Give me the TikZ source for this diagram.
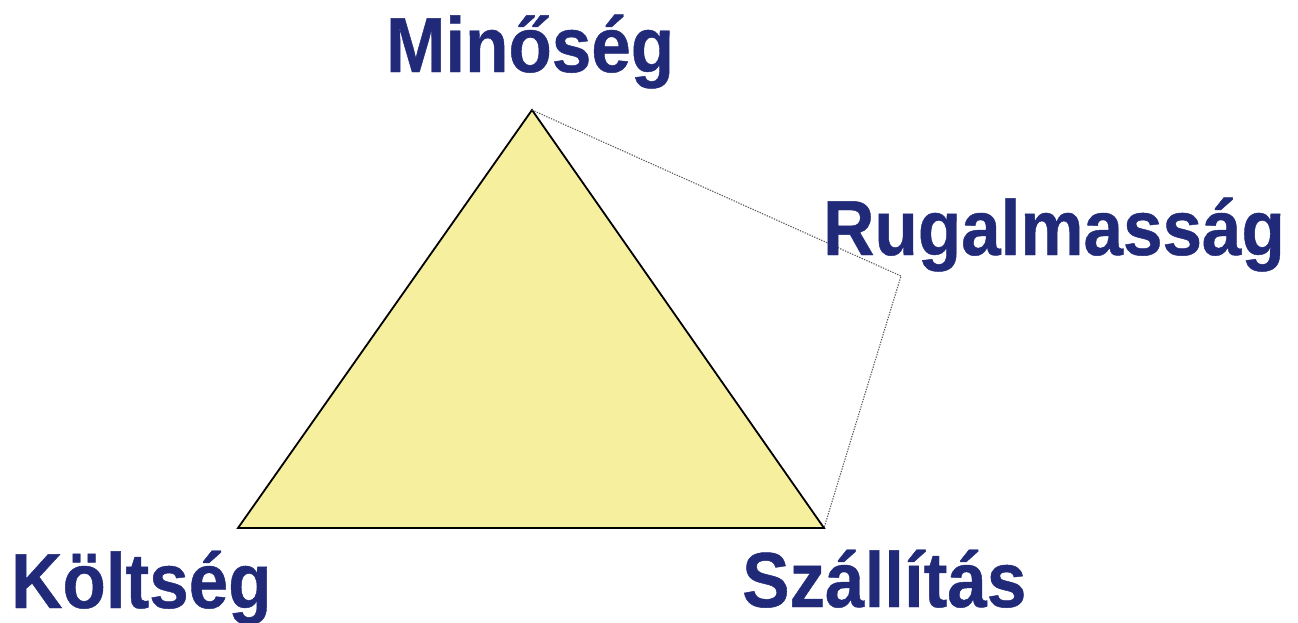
\documentclass[tikz,border=0pt]{standalone}
\usepackage{fontspec}
\setmainfont{Liberation Sans}[BoldFeatures={FakeBold=0.6}]
\usetikzlibrary{calc}
\definecolor{navy}{RGB}{32,42,120}
\definecolor{tri}{RGB}{246,240,158}
\definecolor{dotgray}{RGB}{90,90,90}
\tikzset{
  lbl/.style={inner sep=0pt, anchor=base west, text=navy, font=\bfseries\fontsize{71}{85}\selectfont},
  trione/.style={draw=black, line width=1.8pt, fill=tri, line join=miter},
  dotline/.style={draw=dotgray, line width=1.1pt, dash pattern=on 1.3pt off 1.3pt}
}
\begin{document}
\begin{tikzpicture}[x=1pt,y=-1pt]
\useasboundingbox (0,0) rectangle (1298,622);
\coordinate (top) at (532,110);
\coordinate (bl) at (238,528);
\coordinate (br) at (824,528);
\coordinate (rc) at (901,276);
\filldraw[trione] (top) -- (bl) -- (br) -- cycle;
\draw[dotline] (top) -- (rc) -- (br);
\node[lbl] (min) at (386,72) {\scalebox{1}[1.1]{Minőség}};
\node[lbl] (rug) at (823,255) {\scalebox{1}[1.1]{Rugalmasság}};
\node[lbl] (kol) at (11,608) {\scalebox{1}[1.1]{Költség}};
\node[lbl] (sza) at (742,607) {\scalebox{1}[1.1]{Szállítás}};
\end{tikzpicture}
\end{document}
